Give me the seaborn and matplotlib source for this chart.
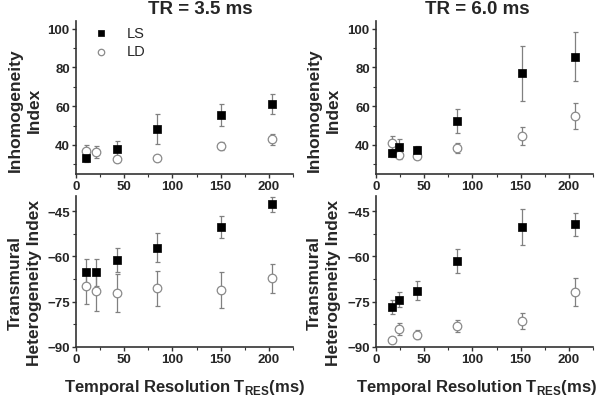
import numpy as np
import pandas as pd
import matplotlib
matplotlib.use("Agg")
import matplotlib.pyplot as plt
import seaborn as sns
from matplotlib.ticker import MultipleLocator

sns.set_style("white")
plt.rcParams['font.family'] = ['Liberation Sans', 'DejaVu Sans']
plt.rcParams['mathtext.fontset'] = 'custom'
plt.rcParams['mathtext.rm'] = 'Liberation Sans'
plt.rcParams['mathtext.bf'] = 'Liberation Sans:bold'

# ---- data ----
titles = ["TR = 3.5 ms", "TR = 6.0 ms"]
series = ["LS", "LD"]

x_35 = [10, 21, 42, 84, 150, 203]
x_35_ls_inh = [10, 42, 84, 150, 203]
x_60 = [17, 24, 42, 84, 151, 206]

inh_35_ls = [33.2, 37.9, 48.4, 55.4, 61.2]
inh_35_ls_err = [2.0, 4.0, 7.8, 5.7, 5.3]
inh_35_ld = [36.8, 36.4, 32.9, 33.2, 39.3, 42.9]
inh_35_ld_err = [3.0, 3.0, 1.5, 1.5, 2.0, 3.0]

inh_60_ls = [35.8, 39.1, 37.2, 52.5, 76.9, 85.5]
inh_60_ls_err = [2.0, 4.0, 2.0, 6.2, 14.0, 12.6]
inh_60_ld = [40.9, 35.0, 34.5, 38.5, 44.6, 54.9]
inh_60_ld_err = [3.5, 2.0, 1.5, 2.7, 4.7, 6.8]

het_35_ls = [-65.1, -65.3, -61.2, -57.1, -50.3, -42.8]
het_35_ls_err = [4.4, 4.5, 4.0, 4.7, 3.6, 2.5]
het_35_ld = [-69.9, -71.3, -72.1, -70.5, -71.1, -67.3]
het_35_ld_err = [5.8, 6.8, 6.3, 5.8, 6.0, 4.9]

het_60_ls = [-76.8, -74.4, -71.3, -61.6, -50.3, -49.4]
het_60_ls_err = [2.2, 2.5, 3.0, 4.0, 6.0, 3.8]
het_60_ld = [-87.8, -84.0, -86.0, -83.1, -81.5, -71.9]
het_60_ld_err = [1.0, 2.0, 1.5, 2.0, 2.7, 4.6]

x_label = r'Temporal Resolution T$_{\mathbf{RES}}$(ms)'
ylab_top = "Inhomogeneity\nIndex"
ylab_bot = "Transmural\nHeterogeneity Index"

W, H = 600, 410
fig = plt.figure(figsize=(6.0, 4.1), dpi=100)

def ax_at(l, t, r, b):
    return fig.add_axes([l / W, 1 - b / H, (r - l) / W, (b - t) / H])

axes = {
    (0, 0): ax_at(76, 22, 293, 175),
    (0, 1): ax_at(376, 22, 593, 175),
    (1, 0): ax_at(76, 197, 293, 348),
    (1, 1): ax_at(376, 197, 593, 348),
}

panels = {
    (0, 0): (x_35_ls_inh, inh_35_ls, inh_35_ls_err, x_35, inh_35_ld, inh_35_ld_err),
    (0, 1): (x_60, inh_60_ls, inh_60_ls_err, x_60, inh_60_ld, inh_60_ld_err),
    (1, 0): (x_35, het_35_ls, het_35_ls_err, x_35, het_35_ld, het_35_ld_err),
    (1, 1): (x_60, het_60_ls, het_60_ls_err, x_60, het_60_ld, het_60_ld_err),
}

err_col = "#808080"
for key, ax in axes.items():
    xs, ys, es, xd, yd, ed = panels[key]
    ax.errorbar(xd, yd, yerr=ed, fmt='none', ecolor=err_col, elinewidth=0.9,
                capsize=1.8, capthick=0.9, zorder=2)
    ax.errorbar(xs, ys, yerr=es, fmt='none', ecolor=err_col, elinewidth=0.9,
                capsize=1.8, capthick=0.9, zorder=2)
    dfd = pd.DataFrame({"x": xd, "y": yd})
    dfs = pd.DataFrame({"x": xs, "y": ys})
    sns.scatterplot(data=dfd, x="x", y="y", ax=ax, marker="o", s=38,
                    facecolor="white", edgecolor="#8a8a8a", linewidth=0.9,
                    label=series[1], zorder=3)
    sns.scatterplot(data=dfs, x="x", y="y", ax=ax, marker="s", s=30,
                    color="black", edgecolor="black", linewidth=0.5,
                    label=series[0], zorder=4)
    ax.set_xlim(0, 225)
    ax.xaxis.set_major_locator(MultipleLocator(50))
    ax.xaxis.set_minor_locator(MultipleLocator(25))
    if key[0] == 0:
        ax.set_ylim(25, 104)
        ax.yaxis.set_major_locator(MultipleLocator(20))
        ax.yaxis.set_minor_locator(MultipleLocator(10))
    else:
        ax.set_ylim(-90, -40)
        ax.set_yticks([-90, -75, -60, -45])
        ax.yaxis.set_minor_locator(MultipleLocator(7.5))
    ax.set_xlabel("")
    ax.set_ylabel("")
    for s in ["top", "right"]:
        ax.spines[s].set_visible(False)
    for s in ["left", "bottom"]:
        ax.spines[s].set_color("#333333")
        ax.spines[s].set_linewidth(1.2)
    ax.tick_params(which="major", direction="out", length=3, width=1,
                   color="#333333", labelsize=9.5, pad=1.5, left=True, bottom=True)
    ax.tick_params(which="minor", direction="out", length=2, width=0.8,
                   color="#333333", left=True, bottom=True)
    for lab in ax.get_xticklabels() + ax.get_yticklabels():
        lab.set_fontweight("bold")
    leg = ax.get_legend()
    if leg is not None:
        leg.remove()

# legend in top-left panel
ax0 = axes[(0, 0)]
h, l = ax0.get_legend_handles_labels()
order = [l.index("LS"), l.index("LD")]
ax0.legend([h[i] for i in order], [l[i] for i in order], loc="upper left",
           bbox_to_anchor=(0.02, 1.005), frameon=False, fontsize=10.5,
           handletextpad=0.8, labelspacing=0.3, borderaxespad=0,
           markerscale=0.75)

# titles
fig.text(200 / W, 1 - 9 / H, titles[0], ha="center", va="center",
         fontsize=13.5, fontweight="bold")
fig.text(477 / W, 1 - 9 / H, titles[1], ha="center", va="center",
         fontsize=13.5, fontweight="bold")

# y labels
for xc in (25, 324):
    fig.text(xc / W, 1 - 110 / H, ylab_top, rotation=90, ha="center",
             va="center", fontsize=12.5, fontweight="bold", linespacing=1.3,
             multialignment="center")
    fig.text(xc / W, 1 - 283 / H, ylab_bot, rotation=90, ha="center",
             va="center", fontsize=12.5, fontweight="bold", linespacing=1.3,
             multialignment="center")

# x labels
for xc in (185, 477):
    fig.text(xc / W, 1 - 388 / H, x_label, ha="center", va="center",
             fontsize=12, fontweight="bold")

fig.savefig("out.png", dpi=100)
